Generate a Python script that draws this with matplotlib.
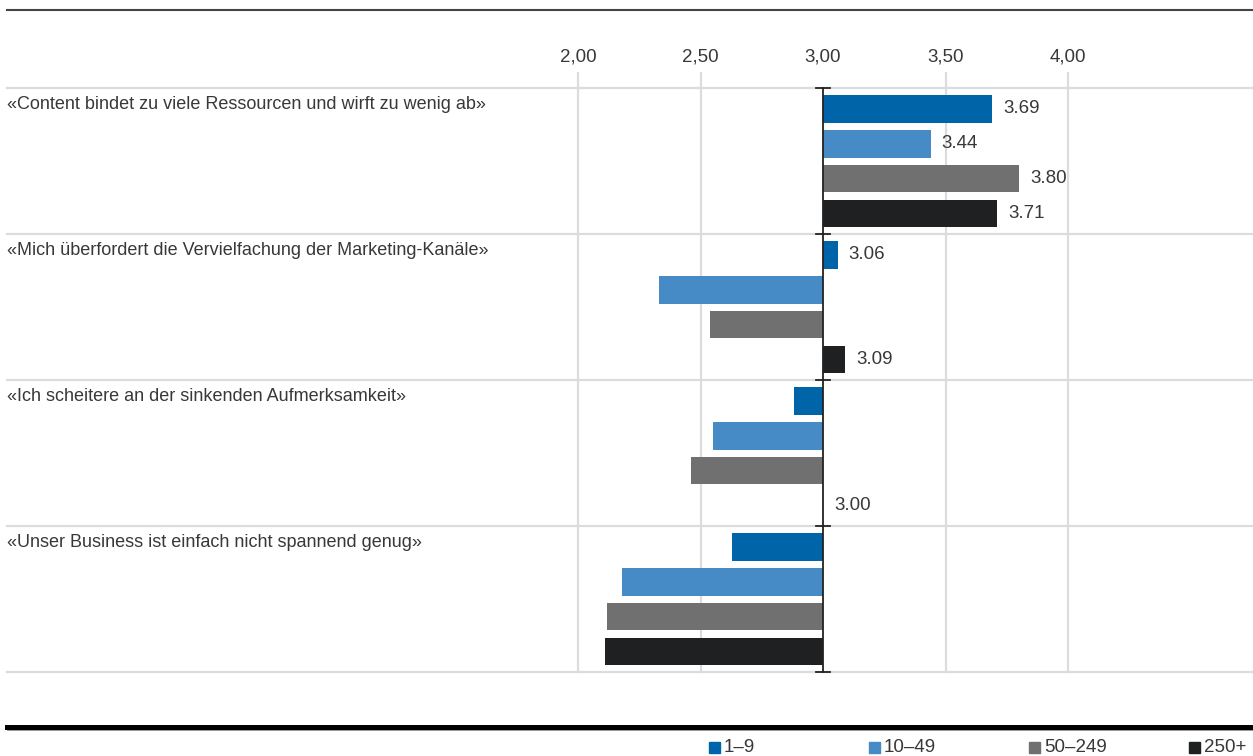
import numpy as np
import matplotlib.pyplot as plt
from matplotlib.patches import Rectangle
from matplotlib.lines import Line2D

plt.rcParams['font.family'] = ['Liberation Sans', 'DejaVu Sans']

# Data
categories = [
    "«Content bindet zu viele Ressourcen und wirft zu wenig ab»",
    "«Mich überfordert die Vervielfachung der Marketing-Kanäle»",
    "«Ich scheitere an der sinkenden Aufmerksamkeit»",
    "«Unser Business ist einfach nicht spannend genug»",
]
series = ["1–9", "10–49", "50–249", "250+"]
values_1_9 = [3.69, 3.06, 2.88, 2.63]
values_10_49 = [3.44, 2.33, 2.55, 2.18]
values_50_249 = [3.80, 2.54, 2.46, 2.12]
values_250 = [3.71, 3.09, 3.00, 2.11]
ticks = [2.0, 2.5, 3.0, 3.5, 4.0]
tick_labels = ["2,00", "2,50", "3,00", "3,50", "4,00"]

colors = ["#0064a8", "#468ac6", "#707070", "#1f2022"]
text_col = "#383838"
grid_col = "#dcdcdc"
fs = 13

W, H = 1253, 756
fig = plt.figure(figsize=(W / 100, H / 100), dpi=100)

# pixel layout of the plot area
px_left, px_right = 7, 1253
px_top, px_bottom = 88, 672
px_base, px_per_unit = 823, 245
x0 = 3 - (px_base - px_left) / px_per_unit
x1 = 3 + (px_right - px_base) / px_per_unit

ax = fig.add_axes([px_left / W, (H - px_bottom) / H,
                   (px_right - px_left) / W, (px_bottom - px_top) / H])
ax.set_xlim(x0, x1)
ax.set_ylim(len(categories), 0)
ax.axis('off')

# vertical gridlines and tick labels
for t, lab in zip(ticks, tick_labels):
    if t != 3.0:
        ax.plot([t, t], [-0.1, len(categories)], color=grid_col, lw=1.6,
                clip_on=False, zorder=0)
    ax.text(t, -0.21, lab, ha='center', va='center', fontsize=fs + 0.5,
            color=text_col)

# group separators
for i in range(len(categories) + 1):
    ax.plot([x0, x1], [i, i], color=grid_col, lw=1.6, clip_on=False, zorder=0)

all_values = [values_1_9, values_10_49, values_50_249, values_250]
bar_h = 0.19
offsets = [0.1425 + k * 0.239 for k in range(4)]
off_px = 11 / px_per_unit

for k, vals in enumerate(all_values):
    ys = [i + offsets[k] for i in range(len(categories))]
    widths = [v - 3 for v in vals]
    ax.barh(ys, widths, left=3, height=bar_h, color=colors[k], zorder=2)
    for y, v in zip(ys, vals):
        if v >= 3:
            ax.text(v + off_px, y, f"{v:.2f}", va='center', ha='left',
                    fontsize=fs + 0.5, color=text_col)

# category labels
for i, c in enumerate(categories):
    ax.text(x0, i + 0.11, c, va='center', ha='left', fontsize=fs, color=text_col)

# baseline axis at 3.00 with caps
ax.plot([3, 3], [0, len(categories)], color="#222222", lw=1.3, zorder=3, clip_on=False)
cap = 7 / px_per_unit
for i in range(len(categories) + 1):
    ax.plot([3 - cap, 3 + cap], [i, i], color="#222222", lw=1.3, zorder=3, clip_on=False)

# top rule
fig.add_artist(Line2D([px_left / W, 1], [1 - 10 / H] * 2, color="#444444", lw=1.5))
# bottom thick rule
fig.add_artist(Line2D([px_left / W, 1], [1 - 727 / H] * 2, color="#000000", lw=3.6))
fig.add_artist(Line2D([px_left / W, 1], [1 - 730 / H] * 2, color="#888888", lw=0.6))

# legend
leg_x = [709, 869, 1029, 1189]
for name, col, lx in zip(series, colors, leg_x):
    fig.add_artist(Rectangle((lx / W, 1 - 753 / H), 11 / W, 11 / H,
                             color=col, transform=fig.transFigure))
    fig.text((lx + 15) / W, 1 - 747 / H, name.replace("–", " – ").replace(" – ", "–"),
             ha='left', va='center', fontsize=fs + 0.5, color=text_col)

fig.savefig("out.png", dpi=100)
